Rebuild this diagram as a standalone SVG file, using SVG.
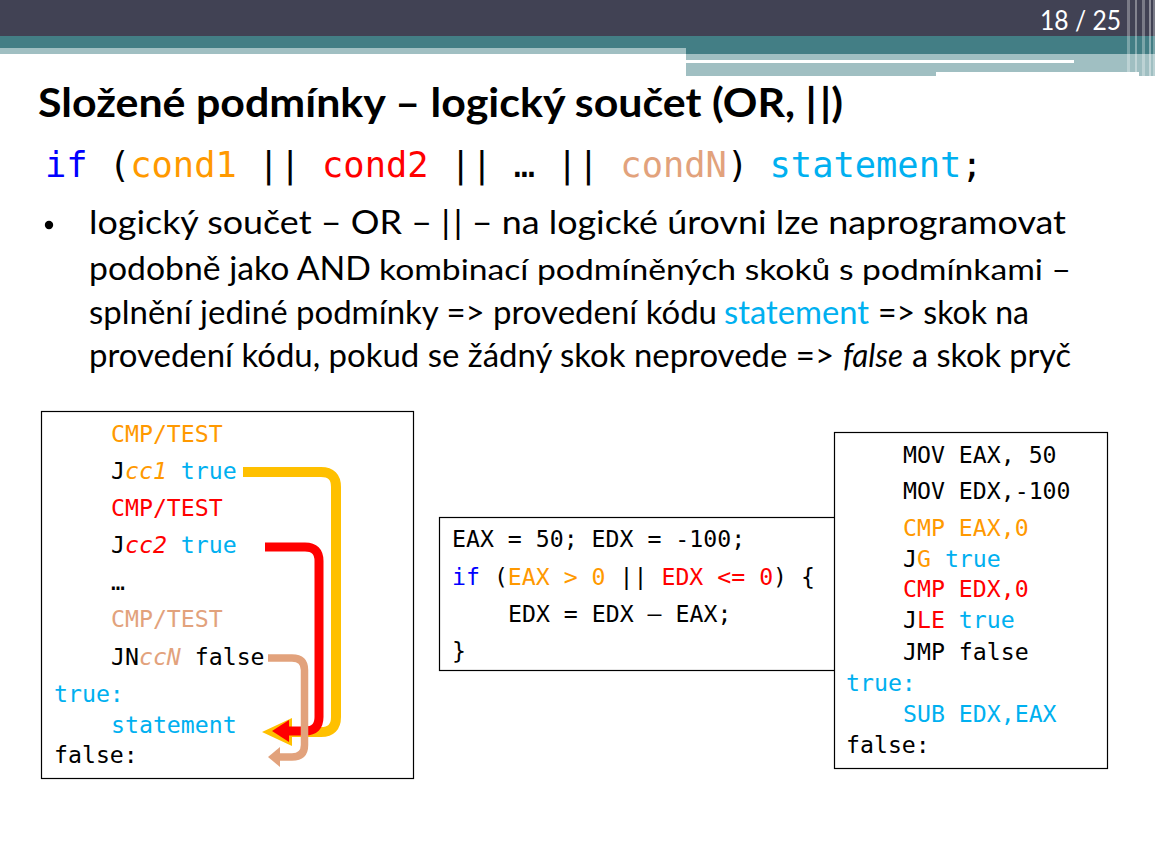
<svg xmlns="http://www.w3.org/2000/svg" width="1155" height="864" viewBox="0 0 1155 864">
  <style>
    .sans { font-family: Lato, "Liberation Sans", sans-serif; }
    .mono { font-family: "DejaVu Sans Mono", "Liberation Mono", monospace; font-size: 23.2px; fill: #000; }
    .big  { font-family: "DejaVu Sans Mono", "Liberation Mono", monospace; font-size: 35.4px; }
    .o { fill: #FF9900; }
    .r { fill: #FF0000; }
    .t { fill: #E2A27C; }
    .c { fill: #00B0F0; }
    .b { fill: #0000FF; }
    .it { font-style: italic; }
    .box { fill: #fff; stroke: #000; stroke-width: 1.2; }
    .arr { fill: none; stroke-linecap: butt; stroke-linejoin: round; }
  </style>
  <defs>
    <marker id="headY" viewBox="0 0 30 28" refX="0" refY="14" markerWidth="30" markerHeight="28" markerUnits="userSpaceOnUse" orient="auto">
      <path d="M0,0 L30,14 L0,28 Z" fill="#FFC000"/>
    </marker>
    <marker id="headR" viewBox="0 0 17 22" refX="0" refY="11" markerWidth="17" markerHeight="22" markerUnits="userSpaceOnUse" orient="auto">
      <path d="M0,0 L17,11 L0,22 Z" fill="#FF0000"/>
    </marker>
    <marker id="headT" viewBox="0 0 12 20" refX="0" refY="10" markerWidth="12" markerHeight="20" markerUnits="userSpaceOnUse" orient="auto">
      <path d="M0,0 L12,10 L0,20 Z" fill="#E2A27C"/>
    </marker>
  </defs>

  <!-- header bands -->
  <g id="header">
    <rect x="0" y="0" width="1155" height="36" fill="#414254"/>
    <rect x="0" y="36" width="1155" height="18" fill="#437E85"/>
    <rect x="0" y="48" width="686" height="6" fill="#A0BFC2"/>
    <rect x="686" y="54" width="469" height="22" fill="#A0BFC2"/>
    <rect x="686" y="60" width="388" height="3" fill="#fff"/>
    <rect x="936" y="72" width="203" height="4" fill="#fff"/>
    <rect x="1127" y="0" width="3" height="76" fill="#fff" opacity="0.3"/>
    <rect x="1135" y="0" width="2" height="76" fill="#fff" opacity="0.35"/>
    <rect x="1142" y="0" width="3" height="76" fill="#fff" opacity="0.3"/>
    <rect x="1149" y="0" width="2" height="76" fill="#fff" opacity="0.4"/>
    <rect x="1153" y="0" width="2" height="76" fill="#fff" opacity="0.3"/>
    <text class="sans" x="1121" y="30" font-size="26" fill="#fff" text-anchor="end" textLength="81" lengthAdjust="spacingAndGlyphs">18 / 25</text>
  </g>

  <!-- title -->
  <text class="sans" x="38" y="117" font-size="40" font-weight="bold" fill="#000" textLength="805" lengthAdjust="spacingAndGlyphs">Složené podmínky – logický součet (OR, |<tspan dx="3">|</tspan>)</text>

  <!-- syntax line -->
  <text class="big" x="45" y="177" fill="#000"><tspan class="b">if</tspan> (<tspan class="o">cond1</tspan> || <tspan class="r">cond2</tspan> || … || <tspan class="t">condN</tspan>) <tspan class="c">statement</tspan>;</text>

  <!-- bullet paragraph -->
  <g id="bullet" class="sans" fill="#000">
    <circle cx="49" cy="225" r="4.2" fill="#000"/>
    <text x="89" y="234" font-size="32" textLength="977" lengthAdjust="spacingAndGlyphs">logický součet – OR – |<tspan dx="3">|</tspan> – na logické úrovni lze naprogramovat</text>
    <text x="89" y="280" font-size="32" textLength="282" lengthAdjust="spacingAndGlyphs">podobně jako AND</text>
    <text x="379" y="280" font-size="29" textLength="692" lengthAdjust="spacingAndGlyphs">kombinací podmíněných skoků s podmínkami –</text>
    <text x="89" y="324" font-size="32" textLength="628" lengthAdjust="spacingAndGlyphs">splnění jediné podmínky =&gt; provedení kódu</text>
    <text x="724" y="324" font-size="32" class="c" textLength="145" lengthAdjust="spacingAndGlyphs">statement</text>
    <text x="878" y="324" font-size="32" textLength="151" lengthAdjust="spacingAndGlyphs">=&gt; skok na</text>
    <text x="89" y="367" font-size="32" textLength="745" lengthAdjust="spacingAndGlyphs">provedení kódu, pokud se žádný skok neprovede =&gt;</text>
    <text x="843" y="367" font-size="32" font-style="italic" textLength="60" lengthAdjust="spacingAndGlyphs">false</text>
    <text x="912" y="367" font-size="32" textLength="159" lengthAdjust="spacingAndGlyphs">a skok pryč</text>
  </g>

  <!-- generic pattern box -->
  <g id="pattern">
    <rect class="box" x="41.5" y="411.5" width="372" height="367"/>
    <text class="mono o" x="111" y="442">CMP/TEST</text>
    <text class="mono" x="111" y="479">J<tspan class="o it">cc1</tspan> <tspan class="c">true</tspan></text>
    <text class="mono r" x="111" y="516">CMP/TEST</text>
    <text class="mono" x="111" y="553">J<tspan class="r it">cc2</tspan> <tspan class="c">true</tspan></text>
    <text class="mono" x="111" y="590">…</text>
    <text class="mono t" x="111" y="627">CMP/TEST</text>
    <text class="mono" x="111" y="665">JN<tspan class="t it">ccN</tspan> false</text>
    <text class="mono c" x="54" y="702">true:</text>
    <text class="mono c" x="111" y="733">statement</text>
    <text class="mono" x="54" y="763">false:</text>
  </g>

  <!-- C source box -->
  <g id="csource">
    <rect class="box" x="439.5" y="517.5" width="400" height="153"/>
    <text class="mono" x="452" y="547">EAX = 50; EDX = -100;</text>
    <text class="mono" x="452" y="585"><tspan class="b">if</tspan> (<tspan class="o">EAX &gt; 0</tspan> || <tspan class="r">EDX &lt;= 0</tspan>) {</text>
    <text class="mono" x="508" y="622">EDX = EDX – EAX;</text>
    <text class="mono" x="452" y="659">}</text>
  </g>

  <!-- assembly box -->
  <g id="asm">
    <rect class="box" x="834.5" y="432.5" width="273" height="336"/>
    <text class="mono" x="903" y="463">MOV EAX, 50</text>
    <text class="mono" x="903" y="499">MOV EDX,-100</text>
    <text class="mono o" x="903" y="536">CMP EAX,0</text>
    <text class="mono" x="903" y="567">J<tspan class="o">G</tspan> <tspan class="c">true</tspan></text>
    <text class="mono r" x="903" y="597">CMP EDX,0</text>
    <text class="mono" x="903" y="628">J<tspan class="r">LE</tspan> <tspan class="c">true</tspan></text>
    <text class="mono" x="903" y="660">JMP false</text>
    <text class="mono c" x="846" y="691">true:</text>
    <text class="mono c" x="903" y="722">SUB EDX,EAX</text>
    <text class="mono" x="846" y="753">false:</text>
  </g>

  <!-- jump arrows -->
  <g id="connectors">
    <path class="arr" d="M243,472 H321 Q336,472 336,487 V717 Q336,732 321,732 H292" stroke="#FFC000" stroke-width="10" marker-end="url(#headY)"/>
    <path class="arr" d="M265,547 H305 Q319,547 319,561 V717 Q319,731 305,731 H289" stroke="#FF0000" stroke-width="9" marker-end="url(#headR)"/>
    <path class="arr" d="M268,658 H292 Q304.5,658 304.5,670 V745 Q304.5,757 292,757 H280" stroke="#E2A27C" stroke-width="7.5" marker-end="url(#headT)"/>
  </g>
</svg>
